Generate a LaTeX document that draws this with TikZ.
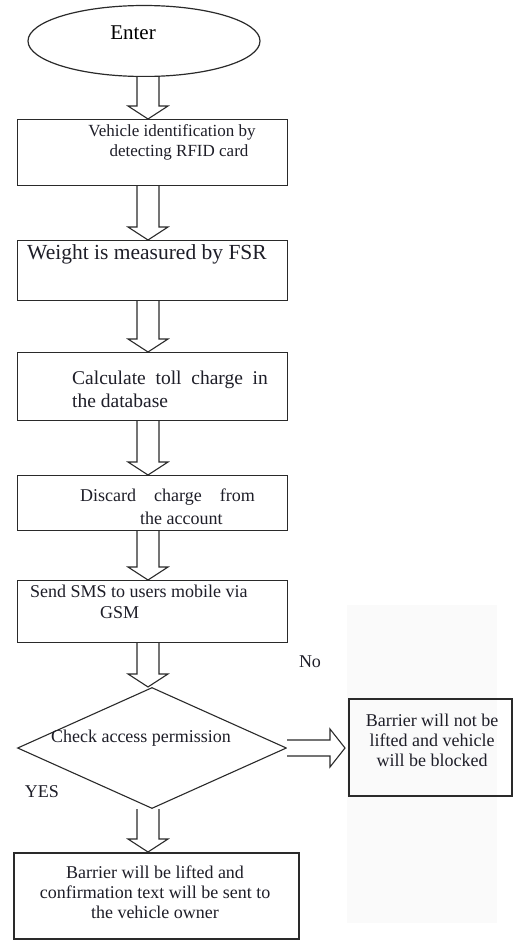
\documentclass[tikz,border=0pt]{standalone}
\usepackage{fontspec}
\setmainfont{Liberation Serif}
\usetikzlibrary{shapes.geometric,calc}
\definecolor{ink}{HTML}{2A2A2A}
\definecolor{txt}{HTML}{1E1E28}
\tikzset{
  boxnode/.style={draw=ink,line width=1.2pt,rectangle,inner sep=0pt,anchor=north west},
  lbl/.style={text=txt,inner sep=0pt,font=\fontsize{18}{20}\selectfont,align=center},
  hollow/.style={draw=ink,line width=1.1pt,fill=white,line join=miter},
}
% hollow down arrow: #1 start point, #2 tip point
\newcommand\hdown[2]{%
  \draw[hollow] ($(#1)+(-11,0)$) -- ($(#2)+(-11,-13)$) -- ($(#2)+(-20,-13)$) -- (#2)
    -- ($(#2)+(20,-13)$) -- ($(#2)+(11,-13)$) -- ($(#1)+(11,0)$);}
\begin{document}
\begin{tikzpicture}[x=1pt,y=-1pt]
\useasboundingbox (0,0) rectangle (513,940);
\fill[white] (0,0) rectangle (513,940);
% faint scan background
\fill[black!2] (347,605) rectangle (497,923);
\coordinate (ax) at (148,0);

% nodes
\node[draw=ink,line width=1.2pt,ellipse,minimum width=232pt,minimum height=71pt,inner sep=0pt] (e) at (144,41) {};
\node[lbl,font=\fontsize{21}{23}\selectfont,text=black] (te) at (133,33) {Enter};

\node[boxnode,minimum width=270pt,minimum height=66pt] (b1) at (17,119) {};
\node[lbl,font=\fontsize{17}{20}\selectfont] (t1) at (172,142) {Vehicle identification by\\\hspace*{14pt}detecting RFID card};

\node[boxnode,minimum width=270pt,minimum height=60pt] (b2) at (17,240) {};
\node[lbl,font=\fontsize{21.5}{24}\selectfont] (t2) at (147,254) {Weight is measured by FSR};

\node[boxnode,minimum width=270pt,minimum height=68pt] (b3) at (17,352) {};
\node[lbl,align=left,anchor=west,font=\fontsize{19.5}{23}\selectfont] (t3) at (72,389) {Calculate\ \ toll\ \ charge\ \ in\\the database};

\node[boxnode,minimum width=270pt,minimum height=55pt] (b4) at (17,475) {};
\node[lbl,anchor=west,align=left] (t4a) at (80,497) {Discard\ \ \ \ charge\ \ \ \ from};
\node[lbl,anchor=west,align=left] (t4b) at (140,518) {the account};

\node[boxnode,minimum width=270pt,minimum height=62pt] (b5) at (17,580) {};
\node[lbl,anchor=west] (t5a) at (30,591) {Send SMS to users mobile via};
\node[lbl,anchor=west] (t5b) at (100,613) {GSM};

\node[draw=ink,line width=1.1pt,diamond,minimum width=269pt,minimum height=121pt,inner sep=0pt] (d) at (152,748) {};
\node[lbl] (td) at (141,738) {Check access permission};

\node[lbl] (no) at (310,662) {No};
\node[lbl] (yes) at (42,792) {YES};

\node[boxnode,line width=1.5pt,minimum width=163pt,minimum height=97pt] (r) at (348,698) {};
\node[lbl] (tr) at (432,740) {Barrier will not be\\lifted and vehicle\\will be blocked};

\node[boxnode,line width=2pt,minimum width=285pt,minimum height=86pt] (f) at (13,852) {};
\node[lbl] (tf) at (155,892) {Barrier will be lifted and\\confirmation text will be sent to\\the vehicle owner};

% hollow arrows
\hdown{e.south -| ax}{b1.north -| ax}
\hdown{b1.south -| ax}{b2.north -| ax}
\hdown{b2.south -| ax}{b3.north -| ax}
\hdown{b3.south -| ax}{b4.north -| ax}
\hdown{b4.south -| ax}{b5.north -| ax}
\hdown{b5.south -| ax}{d.north -| ax}
\hdown{d.south -| ax}{f.north -| ax}
% right arrow
\draw[hollow] ($(d.east)+(0,-8)$) -- ($(r.west |- d.east)+(-18,-8)$) -- ($(r.west |- d.east)+(-18,-19)$)
  -- ($(r.west |- d.east)+(-3,0)$) -- ($(r.west |- d.east)+(-18,19)$) -- ($(r.west |- d.east)+(-18,8)$)
  -- ($(d.east)+(0,8)$);
\end{tikzpicture}
\end{document}
